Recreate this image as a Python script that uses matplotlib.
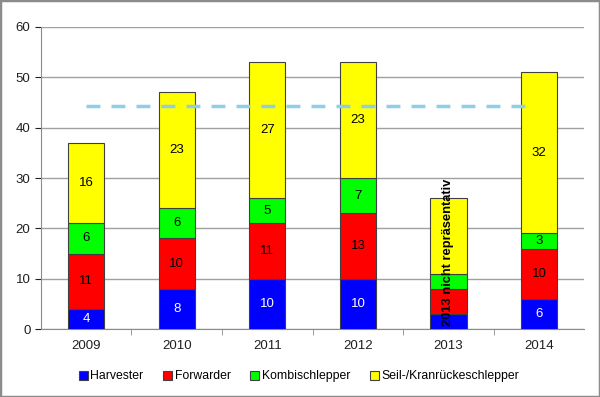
import numpy as np
import matplotlib
matplotlib.use('Agg')
import matplotlib.pyplot as plt
from matplotlib.patches import Rectangle

plt.rcParams['font.family'] = ['Liberation Sans', 'DejaVu Sans']

years = ['2009', '2010', '2011', '2012', '2013', '2014']
harvester = [4, 8, 10, 10, 3, 6]
forwarder = [11, 10, 11, 13, 5, 10]
kombi = [6, 6, 5, 7, 3, 3]
seil = [16, 23, 27, 23, 15, 32]
mean_level = 44.4
series = [
    ('Harvester', harvester, '#0000ff', 'white'),
    ('Forwarder', forwarder, '#ff0000', 'black'),
    ('Kombischlepper', kombi, '#00ff00', 'black'),
    ('Seil-/Kranrückeschlepper', seil, '#ffff00', 'black'),
]
no_labels = ['2013']

fig = plt.figure(figsize=(6, 3.97), dpi=100)
fig.patches.append(Rectangle((0, 0), 1, 1, transform=fig.transFigure,
                             fill=False, edgecolor='#8c8c8c', linewidth=2.5))
ax = fig.add_axes([0.068, 0.171, 0.906, 0.761])

x = np.arange(len(years))
bottom = np.zeros(len(years))
for name, vals, color, tcolor in series:
    vals = np.array(vals)
    ax.bar(x, vals, 0.4, bottom=bottom, color=color, edgecolor='#404040',
           linewidth=0.8, label=name, zorder=3)
    for i, v in enumerate(vals):
        if years[i] in no_labels:
            continue
        ax.text(x[i], bottom[i] + v / 2, str(v), ha='center', va='center',
                color=tcolor, fontsize=9.5, zorder=4)
    bottom += vals

ax.plot([0, 4.95], [mean_level, mean_level], color='#8ecfe6', linewidth=2.5,
        dashes=(4, 3.2), zorder=5)

ax.text(4, 15.3, '2013 nicht repräsentativ', rotation=90, ha='center',
        va='center', fontsize=9.3, fontweight='bold', zorder=6)

ax.set_xlim(-0.5, 5.5)
ax.set_ylim(0, 60)
ax.set_yticks(range(0, 61, 10))
ax.set_xticks(x)
ax.set_xticklabels(years)
ax.set_xticks(np.arange(0.5, 5.5, 1), minor=True)
ax.tick_params(axis='x', which='major', length=0, pad=8)
ax.tick_params(axis='x', which='minor', length=4, color='#8c8c8c', direction='out')
ax.tick_params(axis='y', length=4, color='#8c8c8c', direction='out')
ax.tick_params(labelsize=9.5, colors='#202020')
ax.yaxis.grid(True, color='#a0a0a0', linewidth=1, zorder=0)
for s in ['top', 'right']:
    ax.spines[s].set_visible(False)
for s in ['left', 'bottom']:
    ax.spines[s].set_color('#8c8c8c')

ax.legend(loc='upper center', bbox_to_anchor=(0.475, -0.1), ncol=4,
          frameon=False, fontsize=8.8, handlelength=0.75, handleheight=0.75,
          handletextpad=0.2, columnspacing=1.6)

fig.savefig('out.png', dpi=100)
